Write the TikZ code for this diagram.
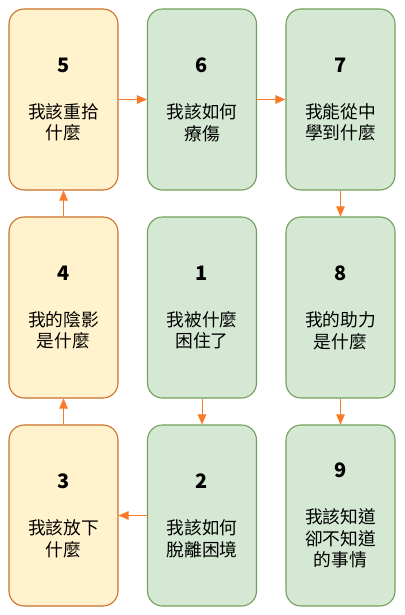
\documentclass[tikz,border=0pt]{standalone}
\usepackage{fontspec}
\usepackage{tikz}
\usetikzlibrary{positioning,arrows.meta}
\newfontfamily\cjk{Noto Sans CJK TC}
\definecolor{selffill}{RGB}{255,242,204}
\definecolor{selfline}{RGB}{204,112,40}
\definecolor{helpfill}{RGB}{213,232,212}
\definecolor{helpline}{RGB}{115,160,90}
\definecolor{flowline}{RGB}{250,122,40}
\newcommand{\stepno}[1]{{\fontsize{20}{20}\selectfont\bfseries #1}}
\tikzset{
  card/.style={rounded corners=15bp,line width=1.1bp,minimum width=109bp,minimum height=181bp,
    align=center,inner sep=0pt,font=\cjk\fontsize{17.8}{21.5}\selectfont},
  selfcard/.style={card,draw=selfline,fill=selffill},
  helpcard/.style={card,draw=helpline,fill=helpfill},
  flow/.style={draw=flowline,line width=1bp,-{Triangle[length=10bp,width=8.5bp]}}
}

\begin{document}
\begin{tikzpicture}[x=1bp,y=-1bp]
  \useasboundingbox (0,0) rectangle (404,615);
  % top row
  \node[selfcard] (box5) at (63.5,99.5) {\stepno{5}\\[25bp]我該重拾\\什麼};
  \node[helpcard] (box6) at (202,99.5) {\stepno{6}\\[25bp]我該如何\\療傷};
  \node[helpcard] (box7) at (340.5,99.5) {\stepno{7}\\[25bp]我能從中\\學到什麼};
  % middle row
  \node[selfcard] (box4) at (63.5,307.5) {\stepno{4}\\[25bp]我的陰影\\是什麼};
  \node[helpcard] (box1) at (202,307.5) {\stepno{1}\\[25bp]我被什麼\\困住了};
  \node[helpcard] (box8) at (340.5,307.5) {\stepno{8}\\[25bp]我的助力\\是什麼};
  % bottom row
  \node[selfcard] (box3) at (63.5,515.5) {\stepno{3}\\[25bp]我該放下\\什麼};
  \node[helpcard] (box2) at (202,515.5) {\stepno{2}\\[25bp]我該如何\\脫離困境};
  \node[helpcard] (box9) at (340.5,515.5) {\stepno{9}\\[25bp]我該知道\\卻不知道\\的事情};
  % order of the steps
  \draw[flow] (box1) -- (box2);
  \draw[flow] (box2) -- (box3);
  \draw[flow] (box3) -- (box4);
  \draw[flow] (box4) -- (box5);
  \draw[flow] (box5) -- (box6);
  \draw[flow] (box6) -- (box7);
  \draw[flow] (box7) -- (box8);
  \draw[flow] (box8) -- (box9);
\end{tikzpicture}
\end{document}
